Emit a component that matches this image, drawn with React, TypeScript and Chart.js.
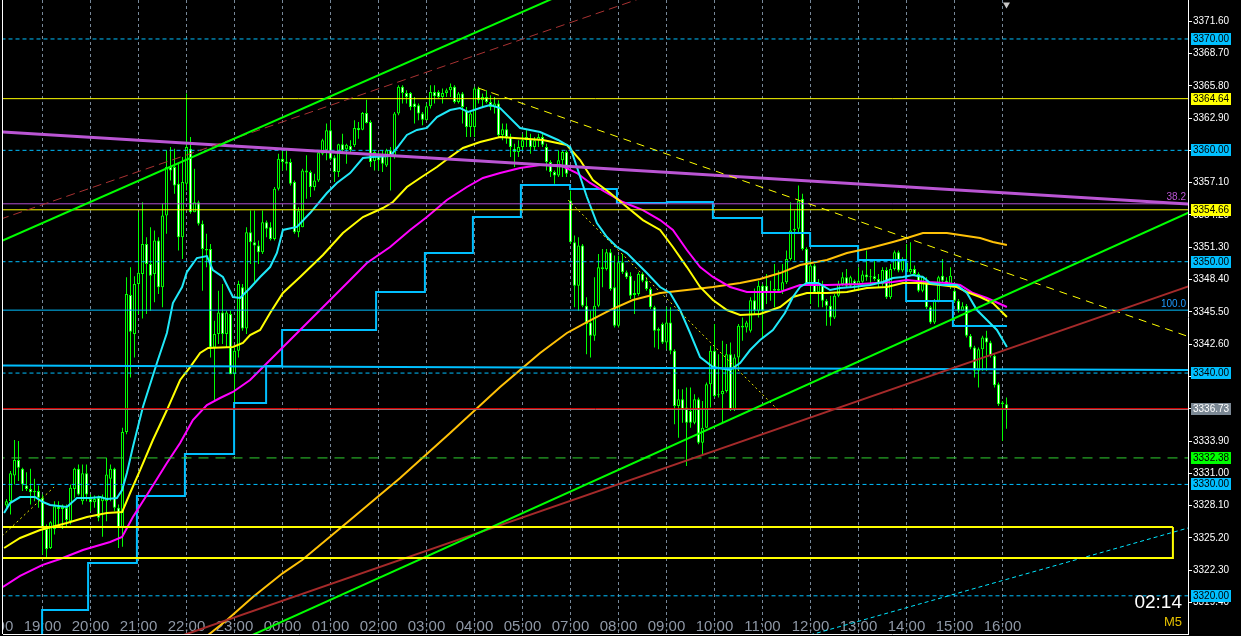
import { useEffect, useRef } from 'react';
import { Chart, registerables } from 'chart.js';

Chart.register(...registerables);

// ---------- Candles (M5 bars, index 0 = first visible bar) ----------
const OPEN = [
  3328.1, 3328.5, 3330.8, 3332.2, 3331.4, 3329.9, 3329.6, 3329.4, 3329.4, 3328.8,
  3326.0, 3324.3, 3326.0, 3328.0, 3327.8, 3327.9, 3326.7, 3329.6, 3331.4, 3328.5,
  3331.0, 3328.7, 3328.4, 3328.8, 3328.5, 3328.5, 3330.5, 3331.4, 3327.9, 3326.1,
  3334.7, 3347.0, 3343.5, 3348.0, 3348.9, 3351.6, 3349.8, 3348.9, 3351.9, 3347.7,
  3354.15, 3358.5, 3358.5, 3357.0, 3352.2, 3357.0, 3360.15, 3354.45, 3355.35, 3353.4,
  3351.15, 3351.15, 3342.3, 3343.5, 3345.45, 3343.5, 3345.3, 3339.9, 3342.0, 3347.7,
  3344.0, 3352.65, 3351.75, 3351.45, 3350.85, 3353.55, 3353.1, 3352.05, 3356.55, 3359.25,
  3359.0, 3358.95, 3357.15, 3352.65, 3353.1, 3358.2, 3358.05, 3356.7, 3357.3, 3359.7,
  3360.0, 3361.8, 3359.35, 3358.05, 3360.55, 3360.1, 3360.4, 3360.45, 3362.0, 3361.85,
  3363.35, 3362.55, 3359.05, 3359.6, 3359.55, 3358.65, 3360.0, 3359.4, 3363.3, 3365.7,
  3365.15, 3365.15, 3364.2, 3364.05, 3363.3, 3362.7, 3363.95, 3365.25, 3365.25, 3364.8,
  3365.15, 3365.4, 3365.7, 3364.35, 3365.1, 3363.6, 3362.1, 3362.1, 3365.55, 3364.5,
  3364.8, 3364.35, 3363.9, 3364.2, 3361.35, 3361.9, 3361.2, 3360.15, 3359.85, 3360.3,
  3360.9, 3361.0, 3360.3, 3360.9, 3361.2, 3360.3, 3358.95, 3358.05, 3357.75, 3359.1,
  3359.85, 3355.5, 3351.75, 3347.85, 3351.45, 3346.05, 3344.55, 3343.35, 3346.05, 3349.5,
  3349.35, 3350.85, 3347.7, 3344.25, 3349.95, 3349.05, 3348.75, 3347.0, 3347.1, 3348.9,
  3348.3, 3347.55, 3345.9, 3343.8, 3344.4, 3342.75, 3344.55, 3342.0, 3337.05, 3337.65,
  3336.9, 3336.6, 3335.55, 3337.65, 3333.75, 3335.1, 3339.0, 3342.0, 3338.0, 3338.1,
  3338.4, 3341.7, 3336.75, 3341.4, 3344.25, 3344.1, 3343.8, 3346.55, 3345.6, 3347.85,
  3347.85, 3347.25, 3347.4, 3347.55, 3347.4, 3348.15, 3350.25, 3352.8, 3352.95, 3355.65,
  3351.15, 3348.0, 3349.65, 3347.25, 3348.0, 3346.5, 3346.05, 3345.0, 3346.95, 3348.0,
  3348.6, 3347.85, 3348.3, 3348.0, 3348.2, 3348.85, 3348.6, 3348.7, 3348.45, 3348.0,
  3349.25, 3346.8, 3349.35, 3350.85, 3349.2, 3349.9, 3349.05, 3349.35, 3348.9, 3347.4,
  3348.3, 3345.9, 3344.55, 3346.5, 3348.75, 3348.3, 3348.0, 3347.4, 3346.5, 3345.6,
  3346.05, 3343.35, 3342.3, 3340.2, 3342.15, 3343.2, 3342.75, 3341.55, 3339.0, 3337.35,
  3337.2,
];
const HIGH = [
  3328.7, 3331.2, 3334.0, 3333.9, 3331.5, 3331.1, 3331.4, 3330.5, 3329.9, 3329.1,
  3326.4, 3326.7, 3328.5, 3328.5, 3328.2, 3328.2, 3330.0, 3331.5, 3331.8, 3331.8,
  3331.8, 3329.1, 3329.0, 3329.0, 3329.1, 3332.4, 3331.8, 3331.5, 3328.2, 3335.1,
  3348.6, 3349.5, 3348.7, 3354.45, 3355.35, 3352.2, 3353.1, 3352.8, 3352.2, 3355.2,
  3360.0, 3360.3, 3360.15, 3358.8, 3359.4, 3365.1, 3361.2, 3358.35, 3355.5, 3353.7,
  3352.5, 3351.6, 3344.7, 3347.4, 3348.0, 3345.6, 3345.6, 3342.3, 3348.3, 3348.0,
  3353.1, 3354.6, 3354.6, 3351.9, 3354.6, 3353.7, 3353.55, 3356.7, 3359.7, 3360.0,
  3360.0, 3359.25, 3357.3, 3354.9, 3358.35, 3359.55, 3358.2, 3357.9, 3359.85, 3361.05,
  3362.4, 3362.7, 3359.55, 3360.6, 3361.5, 3360.6, 3360.9, 3362.7, 3362.55, 3363.45,
  3364.55, 3362.7, 3360.0, 3359.85, 3360.0, 3360.15, 3360.3, 3363.45, 3365.85, 3365.85,
  3365.4, 3365.25, 3364.8, 3364.2, 3363.45, 3364.2, 3365.85, 3365.85, 3365.4, 3365.55,
  3365.55, 3366.0, 3365.85, 3365.25, 3365.25, 3363.9, 3363.45, 3365.7, 3365.7, 3365.1,
  3365.4, 3364.95, 3364.8, 3364.5, 3362.4, 3362.4, 3361.5, 3360.6, 3360.9, 3361.5,
  3361.8, 3361.5, 3361.2, 3361.5, 3361.5, 3360.6, 3359.1, 3358.2, 3360.0, 3360.0,
  3360.0, 3356.4, 3352.35, 3352.2, 3351.6, 3346.8, 3345.6, 3348.6, 3350.7, 3351.15,
  3351.15, 3351.15, 3350.55, 3350.55, 3350.7, 3349.2, 3349.05, 3348.3, 3349.05, 3349.05,
  3348.6, 3347.7, 3346.05, 3344.1, 3344.55, 3345.9, 3345.9, 3342.15, 3338.55, 3338.55,
  3338.7, 3338.7, 3338.1, 3337.8, 3337.5, 3339.15, 3342.45, 3344.4, 3341.7, 3342.9,
  3342.6, 3342.75, 3341.7, 3344.4, 3345.0, 3344.7, 3346.8, 3347.6, 3348.3, 3348.0,
  3348.9, 3348.3, 3349.8, 3349.2, 3349.8, 3351.0, 3355.35, 3354.6, 3356.85, 3356.1,
  3351.3, 3350.1, 3349.8, 3348.45, 3348.3, 3346.65, 3346.95, 3347.1, 3348.3, 3349.05,
  3349.35, 3348.75, 3348.4, 3349.5, 3349.2, 3351.0, 3349.35, 3350.1, 3348.9, 3349.5,
  3349.5, 3349.8, 3351.0, 3351.0, 3350.4, 3351.6, 3351.75, 3349.65, 3349.05, 3348.75,
  3348.6, 3346.05, 3346.65, 3348.75, 3350.25, 3348.6, 3349.5, 3347.55, 3346.65, 3346.35,
  3346.2, 3343.5, 3342.45, 3342.3, 3343.35, 3343.8, 3342.9, 3341.7, 3339.15, 3337.5,
  3337.8,
];
const LOW = [
  3327.9, 3327.3, 3330.0, 3330.3, 3329.4, 3329.4, 3328.2, 3328.5, 3327.9, 3323.7,
  3323.4, 3324.2, 3325.5, 3326.4, 3326.0, 3326.1, 3326.4, 3328.8, 3329.0, 3328.2,
  3328.5, 3327.6, 3327.9, 3326.7, 3325.3, 3326.7, 3328.5, 3327.6, 3324.3, 3324.4,
  3334.5, 3339.6, 3341.4, 3345.3, 3344.9, 3345.3, 3345.6, 3346.35, 3347.1, 3345.9,
  3352.5, 3357.3, 3356.1, 3351.0, 3350.25, 3356.4, 3354.3, 3354.45, 3353.25, 3347.4,
  3349.5, 3341.4, 3337.5, 3342.6, 3342.6, 3342.3, 3339.9, 3336.3, 3341.4, 3343.8,
  3343.5, 3349.8, 3348.2, 3349.8, 3350.7, 3352.2, 3351.9, 3351.9, 3356.4, 3358.2,
  3358.2, 3356.85, 3352.5, 3352.2, 3353.1, 3355.65, 3355.8, 3356.4, 3357.15, 3359.55,
  3359.1, 3359.1, 3357.15, 3357.6, 3359.85, 3358.8, 3359.7, 3360.3, 3361.05, 3361.8,
  3362.4, 3358.5, 3358.2, 3358.2, 3358.05, 3358.5, 3356.4, 3359.25, 3363.15, 3364.2,
  3364.2, 3363.6, 3362.4, 3362.7, 3362.25, 3362.7, 3363.75, 3364.2, 3364.65, 3364.2,
  3364.8, 3364.8, 3364.2, 3364.2, 3362.4, 3361.2, 3361.2, 3361.2, 3364.2, 3363.9,
  3364.2, 3363.6, 3363.3, 3361.2, 3360.9, 3360.6, 3359.4, 3358.5, 3359.4, 3360.0,
  3360.3, 3359.7, 3360.0, 3360.3, 3360.3, 3358.2, 3357.6, 3357.0, 3357.6, 3357.6,
  3357.6, 3351.6, 3345.9, 3345.6, 3345.9, 3341.7, 3341.4, 3342.9, 3345.9, 3347.7,
  3349.2, 3347.4, 3344.1, 3344.1, 3348.9, 3348.45, 3346.65, 3345.3, 3346.95, 3348.15,
  3347.4, 3345.75, 3342.3, 3342.15, 3342.6, 3342.15, 3341.7, 3335.4, 3334.2, 3335.55,
  3331.65, 3335.1, 3335.4, 3333.6, 3332.7, 3335.1, 3336.9, 3337.8, 3337.8, 3335.55,
  3338.25, 3336.6, 3336.6, 3340.2, 3342.9, 3343.65, 3343.65, 3345.3, 3345.0, 3343.2,
  3346.2, 3346.5, 3345.9, 3347.3, 3347.1, 3348.0, 3350.1, 3350.1, 3352.65, 3351.0,
  3347.85, 3346.2, 3347.1, 3345.9, 3345.9, 3344.25, 3344.25, 3344.85, 3346.8, 3347.85,
  3347.7, 3347.7, 3347.4, 3347.4, 3348.1, 3348.3, 3348.0, 3348.3, 3347.7, 3347.85,
  3346.65, 3346.65, 3349.2, 3349.05, 3349.05, 3348.9, 3348.9, 3348.75, 3347.25, 3347.25,
  3345.75, 3344.4, 3344.4, 3346.35, 3348.15, 3347.85, 3347.55, 3346.35, 3345.45, 3345.6,
  3343.2, 3342.15, 3339.6, 3338.7, 3340.2, 3340.2, 3341.4, 3338.7, 3337.05, 3333.9,
  3335.0,
];
const CLOSE = [
  3328.5, 3331.0, 3332.2, 3331.5, 3330.0, 3329.6, 3329.3, 3329.3, 3328.8, 3326.1,
  3324.2, 3326.6, 3328.05, 3327.8, 3328.0, 3326.8, 3329.7, 3331.4, 3329.1, 3331.0,
  3329.1, 3328.4, 3328.7, 3327.0, 3328.9, 3330.9, 3331.4, 3327.9, 3326.1, 3334.7,
  3347.1, 3343.7, 3348.0, 3349.0, 3351.6, 3349.8, 3348.75, 3351.9, 3347.7, 3354.15,
  3358.5, 3358.2, 3356.85, 3352.2, 3357.15, 3360.3, 3354.45, 3355.35, 3353.4, 3351.15,
  3351.0, 3342.3, 3343.5, 3345.45, 3343.5, 3345.45, 3339.9, 3342.0, 3348.0, 3344.0,
  3352.65, 3351.75, 3351.45, 3350.85, 3353.55, 3352.95, 3352.05, 3356.55, 3359.25, 3358.95,
  3358.8, 3357.0, 3352.65, 3354.6, 3358.2, 3358.0, 3356.7, 3357.3, 3359.8, 3360.9,
  3361.8, 3359.25, 3358.05, 3360.55, 3360.0, 3360.5, 3360.0, 3362.0, 3361.8, 3363.35,
  3362.45, 3358.95, 3359.85, 3359.1, 3358.8, 3360.0, 3359.4, 3363.3, 3365.7, 3365.15,
  3364.8, 3363.9, 3363.9, 3363.3, 3362.75, 3363.95, 3365.25, 3364.85, 3364.8, 3365.15,
  3365.4, 3365.7, 3364.35, 3365.1, 3363.9, 3362.1, 3363.3, 3365.55, 3364.5, 3364.8,
  3364.35, 3363.9, 3364.2, 3361.35, 3361.9, 3361.2, 3360.3, 3359.85, 3360.3, 3360.9,
  3361.2, 3360.3, 3360.9, 3361.2, 3360.5, 3358.95, 3358.05, 3357.75, 3359.1, 3359.85,
  3357.9, 3351.75, 3347.85, 3351.45, 3346.05, 3344.4, 3343.35, 3346.05, 3349.5, 3349.35,
  3350.85, 3347.55, 3344.25, 3349.95, 3349.05, 3348.6, 3346.95, 3347.2, 3348.9, 3348.3,
  3347.55, 3345.9, 3343.8, 3343.95, 3342.75, 3344.55, 3342.0, 3337.05, 3337.65, 3336.75,
  3335.55, 3335.55, 3337.65, 3333.75, 3335.1, 3339.0, 3342.0, 3337.95, 3338.1, 3338.4,
  3341.7, 3336.75, 3341.4, 3344.25, 3344.1, 3344.55, 3346.55, 3345.6, 3347.85, 3345.6,
  3347.25, 3347.4, 3347.55, 3347.4, 3348.15, 3350.25, 3352.8, 3352.95, 3355.5, 3351.15,
  3348.0, 3349.65, 3347.25, 3348.0, 3346.5, 3346.05, 3345.0, 3346.95, 3348.0, 3348.6,
  3347.85, 3348.6, 3348.0, 3348.3, 3348.85, 3348.6, 3348.7, 3348.45, 3348.0, 3349.25,
  3346.8, 3349.35, 3350.85, 3349.2, 3350.1, 3349.05, 3349.35, 3348.9, 3347.4, 3348.65,
  3345.9, 3344.55, 3346.5, 3348.6, 3348.3, 3348.0, 3348.75, 3346.5, 3345.6, 3346.0,
  3343.35, 3342.3, 3340.2, 3342.15, 3343.2, 3342.75, 3341.55, 3338.9, 3337.2, 3337.2,
  3336.73,
];

// ---------- Indicator lines: [bar index, price] ----------
const MA_FAST = [
  [-0.6, 3327.43], [0.9, 3328.33], [3.4, 3328.87], [7.1, 3328.87], [9.1, 3328.42], [10.9, 3328.15],
  [15.1, 3327.97], [17.6, 3328.78], [20.9, 3328.78], [23.4, 3328.87], [25.1, 3328.69], [27.6, 3328.78],
  [28.9, 3329.5], [30.1, 3331.03], [31.6, 3333.36], [34.1, 3336.95], [37.6, 3340.9], [40.1, 3343.6],
  [41.6, 3346.29], [43.9, 3347.73], [45.1, 3349.07], [47.6, 3350.33], [50.1, 3350.51], [51.6, 3349.25],
  [54.1, 3348.63], [56.6, 3346.83], [58.4, 3346.74], [60.9, 3347.64], [63.4, 3348.63], [65.9, 3349.52],
  [67.6, 3350.78], [69.1, 3352.85], [72.6, 3353.12], [75.9, 3354.37], [80.1, 3356.17], [82.6, 3357.07],
  [85.9, 3357.96], [89.1, 3359.31], [91.6, 3359.4], [95.9, 3359.49], [97.6, 3360.21], [100.1, 3361.38],
  [102.6, 3361.83], [105.1, 3362.01], [107.6, 3362.99], [110.9, 3363.62], [113.4, 3363.8], [115.4, 3363.44],
  [119.1, 3363.89], [120.9, 3364.07], [123.4, 3363.8], [128.4, 3362.01], [133.4, 3361.65], [137.9, 3360.93],
  [140.9, 3360.3], [142.6, 3358.5], [145.1, 3355.81], [147.6, 3353.47], [150.1, 3352.22], [152.6, 3351.32],
  [155.1, 3350.78], [157.6, 3349.88], [160.1, 3348.98], [163.4, 3347.73], [165.9, 3347.19], [168.4, 3345.66],
  [170.9, 3343.6], [173.4, 3341.44], [176.6, 3340.54], [180.9, 3340.27], [183.4, 3340.9], [185.9, 3342.07],
  [188.4, 3342.97], [191.6, 3343.87], [194.6, 3345.39], [196.6, 3346.83], [198.4, 3347.73], [200.1, 3348.09],
  [202.9, 3348.09], [205.9, 3347.46], [208.4, 3347.64], [211.6, 3347.73], [215.9, 3347.91], [219.1, 3348.18],
  [221.6, 3348.54], [224.1, 3348.63], [226.6, 3348.81], [229.1, 3348.63], [230.9, 3348.09], [234.1, 3347.91],
  [237.6, 3347.91], [240.1, 3347.19], [242.6, 3345.66], [245.1, 3344.76], [247.6, 3343.87], [250.1, 3342.34],
];
const MA_MID = [
  [-0.6, 3324.29], [3.4, 3325.19], [8.4, 3325.91], [15.1, 3326.53], [20.1, 3327.07], [25.1, 3327.43],
  [28.9, 3327.52], [30.9, 3329.23], [33.4, 3331.29], [36.6, 3333.99], [40.1, 3336.68], [43.4, 3339.38],
  [45.9, 3340.54], [48.4, 3341.8], [50.4, 3342.25], [56.6, 3342.34], [59.1, 3342.7], [60.9, 3343.42],
  [63.4, 3343.87], [65.9, 3345.39], [69.1, 3347.19], [73.4, 3348.63], [79.1, 3350.6], [84.1, 3352.58],
  [89.1, 3354.01], [94.1, 3354.82], [96.6, 3355.36], [100.1, 3356.71], [103.4, 3357.52], [107.6, 3358.5],
  [110.9, 3359.4], [114.1, 3360.21], [118.4, 3360.75], [123.4, 3361.2], [134.1, 3360.93], [140.1, 3360.48],
  [143.4, 3359.13], [146.6, 3357.34], [150.9, 3356.17], [155.1, 3354.91], [159.1, 3353.74], [163.4, 3352.85],
  [166.6, 3351.32], [170.1, 3349.52], [173.4, 3347.73], [176.6, 3346.56], [180.1, 3345.66], [183.4, 3345.21],
  [188.4, 3345.3], [193.4, 3345.93], [196.6, 3346.83], [200.1, 3347.19], [205.1, 3347.19], [210.1, 3347.28],
  [215.1, 3347.64], [220.1, 3347.73], [224.1, 3348.09], [228.4, 3348.09], [233.4, 3347.91], [237.6, 3347.73],
  [240.1, 3347.28], [243.4, 3346.83], [246.6, 3346.29], [250.1, 3345.03],
];
const MA_SLOW = [
  [-0.9, 3320.79], [3.4, 3321.78], [8.9, 3322.76], [13.4, 3323.3], [19.1, 3324.11], [25.9, 3324.83],
  [28.9, 3325.28], [31.6, 3327.07], [35.9, 3329.5], [40.1, 3331.92], [43.4, 3333.72], [46.6, 3335.78],
  [50.1, 3337.13], [53.4, 3337.76], [56.6, 3338.3], [60.9, 3339.38], [73.4, 3343.87], [80.9, 3346.56],
  [85.9, 3348.36], [90.1, 3349.88], [95.9, 3351.32], [100.9, 3352.85], [105.1, 3354.01], [110.1, 3355.54],
  [115.1, 3356.71], [119.1, 3357.52], [123.4, 3357.96], [128.4, 3358.41], [133.4, 3358.68], [138.4, 3358.68],
  [142.6, 3357.96], [145.9, 3357.07], [150.1, 3356.17], [154.1, 3355.36], [159.1, 3354.64], [163.4, 3353.74],
  [166.6, 3352.85], [170.1, 3351.05], [173.4, 3349.52], [176.6, 3348.63], [180.9, 3347.73], [185.1, 3347.28],
  [193.4, 3347.28], [198.4, 3347.91], [205.1, 3347.91], [213.4, 3348.0], [221.6, 3348.18], [225.1, 3348.36],
  [230.1, 3348.18], [235.1, 3348.09], [238.4, 3347.91], [241.6, 3347.19], [245.1, 3346.74], [250.1, 3345.93],
];
const MA_LONG = [
  [47.1, 3315.58], [50.1, 3316.39], [55.1, 3317.82], [61.6, 3319.89], [69.1, 3322.04], [73.9, 3323.21],
  [85.9, 3326.8], [98.4, 3330.58], [110.9, 3334.62], [123.4, 3338.75], [128.4, 3340.27], [133.4, 3341.8],
  [140.1, 3343.6], [145.1, 3344.58], [150.9, 3345.66], [156.6, 3346.56], [163.4, 3347.19], [170.1, 3347.46],
  [176.6, 3347.73], [183.4, 3348.09], [188.4, 3348.45], [193.4, 3348.98], [198.4, 3349.7], [205.1, 3350.15],
  [210.1, 3350.78], [215.9, 3351.23], [221.6, 3351.77], [225.1, 3352.13], [229.1, 3352.58], [235.1, 3352.58],
  [238.4, 3352.4], [243.4, 3352.13], [246.6, 3351.77], [250.1, 3351.5],
];
const HTF_STEP = [
  [8.1, 3315.58], [8.9, 3318.72], [20.4, 3322.94], [32.6, 3328.96], [44.6, 3332.73], [56.9, 3337.31],
  [64.9, 3340.63], [68.9, 3343.87], [92.4, 3347.28], [104.6, 3350.78], [116.6, 3354.01], [128.6, 3356.89],
  [140.9, 3356.53], [152.6, 3355.27], [165.1, 3355.36], [176.6, 3353.92], [188.9, 3352.58], [200.9, 3351.41],
  [212.9, 3350.15], [224.9, 3346.47], [236.6, 3344.23], [250.1, 3344.23],
];

// ---------- Drawn objects ----------
const CHANNEL_UP = [[-1.6, 3351.8], [173.4, 3379.45]];
const CHANNEL_LOW = [[48.4, 3314.36], [299.9, 3355.11]];
const BROWN_TREND = [[35.9, 3315.43], [299.9, 3348.34]];
const BROWN_DASHED = [[-1.6, 3353.81], [173.4, 3375.49]];
const YELLOW_DASHED = [[117.9, 3365.6], [299.9, 3342.72]];
const ORCHID_TREND = [[-1.6, 3361.67], [299.9, 3355.09]];
const CYAN_DOTTED = [[200.9, 3316.48], [295.4, 3326.09]];
const YELLOW_DOTTED = [[140.4, 3355.54], [192.9, 3336.68]];
const YELLOW_DOTTED_SMALL = [[-1.1, 3325.37], [11.9, 3329.77]];
const BLUE_FLAT = [[-1.6, 3340.68], [295.4, 3340.27]];

const BLUE_DASHED_LEVELS = [3370.0, 3360.0, 3350.0, 3340.0, 3330.0, 3320.0];
const YELLOW_LEVELS = [3364.64, 3354.66];
const FIB_LEVELS = [3355.2, 3345.65];
const FIB_TEXT = ['38.2', '100.0'];
const RED_LEVEL = 3336.8;
const BID = 3336.73;
const GREEN_DASHED_LEVEL = 3332.38;
const ZONE = { top: 3326.18, bottom: 3323.39, right: 291.6 };

const PRICE_TAGS = [3370.0, 3364.64, 3360.0, 3354.66, 3350.0, 3340.0, 3336.73, 3332.38, 3330.0, 3320.0];
const TAG_BG = ['#00bfff', '#ffff00', '#00bfff', '#ffff00', '#00bfff', '#00bfff', '#7b8894', '#00ff00', '#00bfff', '#00bfff'];
const TAG_FG = ['#000', '#000', '#000', '#000', '#000', '#000', '#fff', '#000', '#000', '#000'];

const Y_TICKS = [3319.4, 3322.3, 3325.2, 3328.1, 3331.0, 3333.9, 3336.8, 3339.7, 3342.6, 3345.5,
  3348.4, 3351.3, 3354.2, 3357.1, 3360.0, 3362.9, 3365.8, 3368.7, 3371.6];
const TIME_BARS = [-3, 9, 21, 33, 45, 57, 69, 81, 93, 105, 117, 129, 141, 153, 165, 177, 189, 201, 213, 225, 237, 249];
const TIME_LABELS = ['18:00', '19:00', '20:00', '21:00', '22:00', '23:00', '00:00', '01:00', '02:00', '03:00', '04:00',
  '05:00', '07:00', '08:00', '09:00', '10:00', '11:00', '12:00', '13:00', '14:00', '15:00', '16:00'];

const FONT = '"Liberation Sans", "DejaVu Sans", sans-serif';

function line(pts: number[][], color: string, width: number, dash: number[] = [], extra: any = {}) {
  return {
    type: 'line',
    data: pts.map(([x, y]) => ({ x, y })),
    borderColor: color,
    borderWidth: width,
    borderDash: dash,
    pointRadius: 0,
    tension: 0,
    fill: false,
    clip: 0,
    ...extra,
  };
}
const hline = (p: number, color: string, width: number, dash: number[] = []) =>
  line([[-3, p], [300, p]], color, width, dash);

const overlay = {
  id: 'mt4overlay',
  beforeDatasetsDraw(chart: any) {
    const { ctx, chartArea, scales } = chart;
    const x = scales.x;
    ctx.save();
    ctx.beginPath();
    ctx.rect(chartArea.left - 1, 0, chartArea.right - chartArea.left + 1, chart.height);
    ctx.clip();
    ctx.font = '15px ' + FONT;
    ctx.fillStyle = '#8f98a6';
    ctx.textAlign = 'center';
    ctx.textBaseline = 'alphabetic';
    TIME_LABELS.forEach((t, k) => ctx.fillText(t, x.getPixelForValue(TIME_BARS[k]), 631));
    ctx.restore();
  },
  afterDraw(chart: any) {
    const { ctx, chartArea, scales } = chart;
    const y = scales.y;
    ctx.save();
    ctx.strokeStyle = '#ffffff';
    ctx.lineWidth = 1;
    ctx.beginPath();
    ctx.moveTo(2.5, 0);
    ctx.lineTo(2.5, chartArea.bottom);
    ctx.stroke();

    ctx.font = '10px ' + FONT;
    ctx.textAlign = 'right';
    ctx.textBaseline = 'alphabetic';
    ctx.fillStyle = '#ba55d3';
    ctx.fillText(FIB_TEXT[0], 1186, y.getPixelForValue(FIB_LEVELS[0]) - 4);
    ctx.fillStyle = '#1e9bff';
    ctx.fillText(FIB_TEXT[1], 1186, y.getPixelForValue(FIB_LEVELS[1]) - 3);

    ctx.textAlign = 'left';
    ctx.textBaseline = 'middle';
    PRICE_TAGS.forEach((p, k) => {
      const py = Math.round(y.getPixelForValue(p));
      ctx.fillStyle = TAG_BG[k];
      ctx.fillRect(1191, py - 6, 40, 12);
      ctx.fillStyle = TAG_FG[k];
      ctx.fillText(p.toFixed(2), 1193, py + 0.5);
    });

    ctx.textAlign = 'right';
    ctx.textBaseline = 'alphabetic';
    ctx.font = '19px ' + FONT;
    ctx.fillStyle = '#ffffff';
    ctx.fillText('02:14', 1182, 608);
    ctx.font = '13px ' + FONT;
    ctx.fillStyle = '#e5c100';
    ctx.fillText('M5', 1182, 626);
    ctx.restore();
  },
};

export default function App() {
  const ref = useRef<HTMLCanvasElement | null>(null);

  useEffect(() => {
    document.body.style.margin = '0';
    document.body.style.background = '#000';
    const canvas = ref.current;
    if (!canvas) return;

    const datasets: any[] = [
      // objects (top-most first)
      line([[ZONE.right, ZONE.top], [-3, ZONE.top], [-3, ZONE.bottom], [ZONE.right, ZONE.bottom], [ZONE.right, ZONE.top]], '#ffff00', 2),
      line(CHANNEL_UP, '#00ff00', 2),
      line(CHANNEL_LOW, '#00ff00', 2),
      line(BROWN_TREND, '#a52a2a', 2),
      line(BROWN_DASHED, '#a83232', 1, [9, 5]),
      line(YELLOW_DASHED, '#ffff00', 1, [8, 6]),
      line(ORCHID_TREND, '#ba55d3', 3),
      line(CYAN_DOTTED, '#00e5ff', 1, [4, 3]),
      line(YELLOW_DOTTED, '#e6e600', 1, [2, 3]),
      line(YELLOW_DOTTED_SMALL, '#e6e600', 1, [2, 3]),
      line(BLUE_FLAT, '#00bfff', 2),
      ...BLUE_DASHED_LEVELS.map((p) => hline(p, '#00bfff', 1, [4, 3])),
      ...YELLOW_LEVELS.map((p) => hline(p, '#ffff00', 1)),
      hline(FIB_LEVELS[0], '#b050d0', 1),
      hline(FIB_LEVELS[1], '#00bfff', 1),
      hline(RED_LEVEL, '#ff0000', 1),
      hline(BID, '#808890', 1),
      hline(GREEN_DASHED_LEVEL, '#30d030', 1, [10, 7]),
      line([[250, 3373.1]], '#c8c8c8', 0, [], { showLine: false, pointRadius: 4, pointStyle: 'triangle', rotation: 180, pointBackgroundColor: '#c8c8c8', pointBorderWidth: 0 }),
      // indicators
      line(MA_FAST, '#20e8f8', 2),
      line(MA_MID, '#ffff00', 2),
      line(MA_SLOW, '#ff00ff', 2),
      line(MA_LONG, '#ffc107', 2),
      line(HTF_STEP, '#00bfff', 2, [], { stepped: 'before' }),
      // candle bodies
      {
        type: 'bar',
        data: OPEN.map((o, i) => ({ x: i, y: [o, CLOSE[i]] })),
        backgroundColor: OPEN.map((o, i) => (CLOSE[i] < o ? '#ffffff' : '#000000')),
        borderColor: '#00ff00',
        borderWidth: 1,
        borderSkipped: false,
        barThickness: 3,
        minBarLength: 1,
        grouped: false,
        inflateAmount: 0,
      },
      // wicks
      {
        type: 'bar',
        data: LOW.map((l, i) => ({ x: i, y: [l, HIGH[i]] })),
        backgroundColor: '#00ff00',
        borderWidth: 0,
        barThickness: 1,
        grouped: false,
        inflateAmount: 0,
      },
    ];

    const chart = new Chart(canvas, {
      type: 'bar',
      data: { datasets },
      options: {
        responsive: false,
        devicePixelRatio: 1,
        animation: false,
        events: [],
        layout: { padding: { left: 3, top: 0, right: 0, bottom: 0 }, autoPadding: false },
        plugins: { legend: { display: false }, tooltip: { enabled: false } },
        scales: {
          x: {
            type: 'linear',
            min: -0.875,
            max: 295.375,
            offset: false,
            afterBuildTicks: (s: any) => { s.ticks = TIME_BARS.filter((v) => v >= 0).map((v) => ({ value: v })); },
            afterFit: (s: any) => { s.height = 2; s.paddingLeft = 0; s.paddingRight = 0; },
            ticks: { display: false },
            grid: { color: '#778899', lineWidth: 1, drawTicks: false, offset: false },
            border: { display: true, color: '#ffffff', width: 1, dash: [3, 3] },
          },
          y: {
            type: 'linear',
            position: 'right',
            min: 3316.57,
            max: 3373.5,
            beginAtZero: false,
            afterBuildTicks: (s: any) => { s.ticks = Y_TICKS.map((v) => ({ value: v })); },
            afterFit: (s: any) => { s.width = 53; s.paddingTop = 0; s.paddingBottom = 0; },
            ticks: {
              color: '#ffffff',
              font: { family: FONT, size: 10 },
              padding: 1,
              autoSkip: false,
              callback: (v: any) => Number(v).toFixed(2),
            },
            grid: { drawOnChartArea: false, drawTicks: true, tickLength: 4, tickColor: '#ffffff' },
            border: { color: '#ffffff', width: 1 },
          },
        },
      } as any,
      plugins: [overlay],
    } as any);

    return () => chart.destroy();
  }, []);

  return (
    <div style={{ position: 'fixed', left: 0, top: 0, width: 1241, height: 636, background: '#000' }}>
      <canvas ref={ref} width={1241} height={636} style={{ display: 'block' }} />
    </div>
  );
}
